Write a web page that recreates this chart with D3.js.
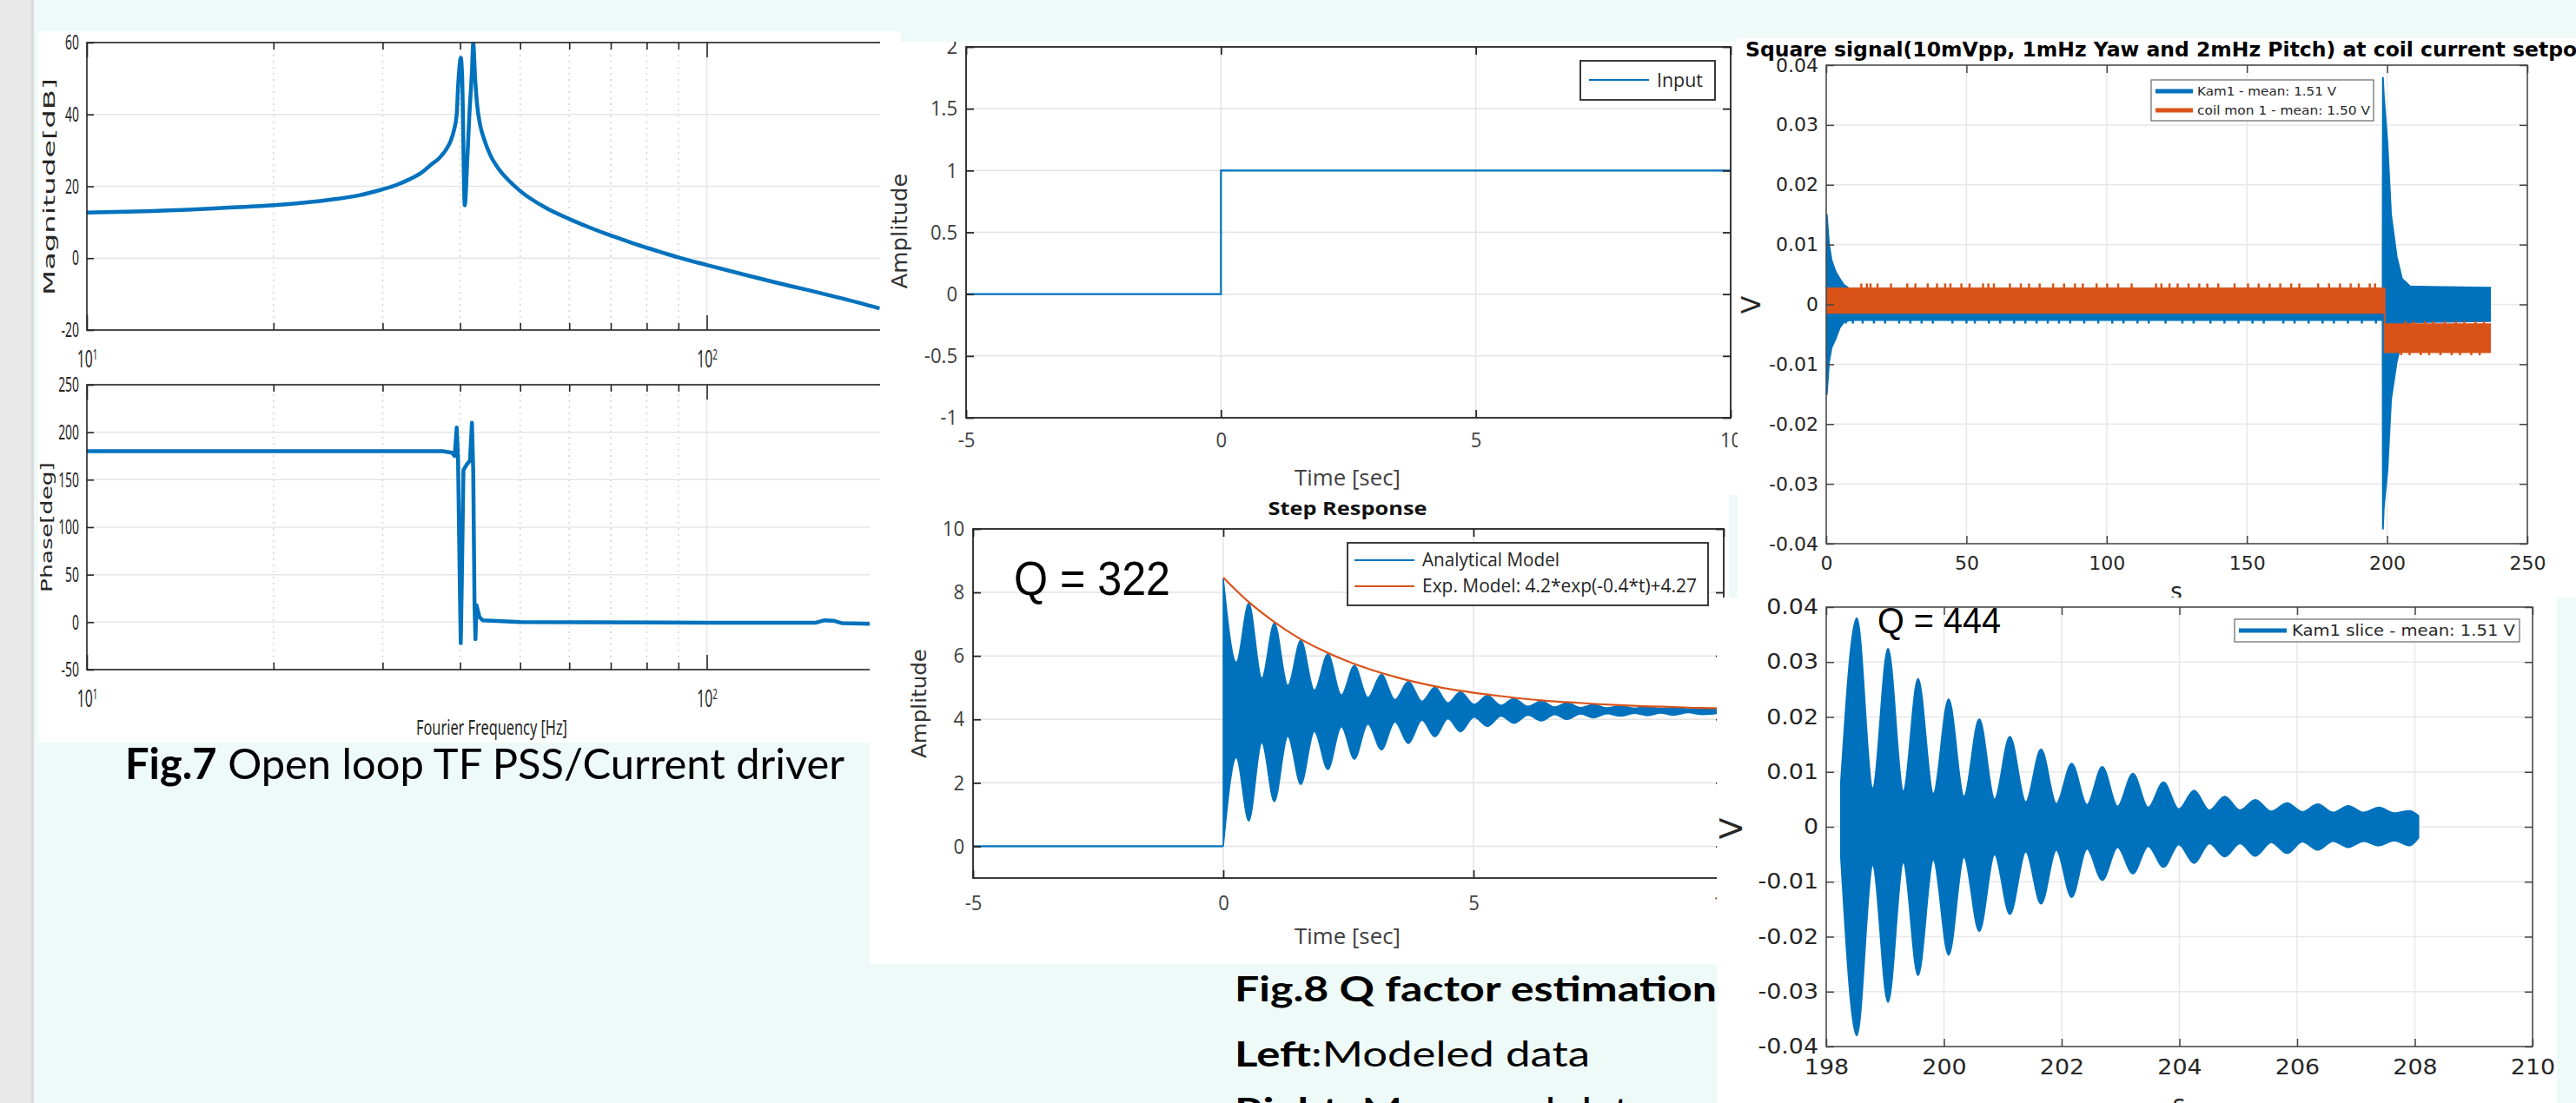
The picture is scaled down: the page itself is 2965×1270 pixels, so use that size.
<!DOCTYPE html>
<html>
<head>
<meta charset="utf-8">
<title>Fig.7 / Fig.8</title>
<script src="https://cdn.jsdelivr.net/npm/d3@7"></script>
<style>
  html, body { margin: 0; padding: 0; background: #eefaf7; }
  svg { display: block; }
</style>
</head>
<body>
<svg id="slide" width="2965" height="1270"></svg>
<script>
/* ===== DATA ===== */

// Fig.7 open loop TF, magnitude
const magFreq = [10, 12, 15, 17.5, 19.8, 22.3, 24.8, 27.5, 29.9, 31.5, 33.1, 34.6, 35.9, 37.0, 37.9, 38.6, 39.1, 39.5, 39.7, 39.9, 40.1, 40.3, 40.7, 41.1, 41.4, 41.8, 42.0, 42.3, 42.6, 43.1, 43.7, 44.8, 46.0, 48, 50, 55, 60, 65, 70, 75, 80, 85, 90, 100, 115, 130, 145, 160, 175, 190];
const magDb   = [12.7, 13.0, 13.6, 14.2, 14.7, 15.4, 16.3, 17.5, 19.1, 20.3, 21.9, 23.7, 26.0, 27.8, 30.0, 32.5, 35.6, 40.0, 47.7, 53.0, 55.8, 51.0, 14.7, 28.0, 39.7, 52.0, 59.8, 50.0, 42.9, 37.0, 33.3, 28.5, 25.2, 21.5, 18.7, 14.0, 10.9, 8.4, 6.3, 4.5, 2.9, 1.5, 0.2, -1.9, -4.6, -6.9, -8.8, -10.6, -12.3, -14.0];
// Fig.7 phase
const phaseFreq = [10, 20, 30, 37.5, 38.8, 39.2, 39.5, 39.7, 40.0, 40.1, 40.25, 40.5, 41.0, 41.5, 41.8, 42.0, 42.2, 42.35, 42.5, 43.0, 43.5, 50, 100, 150, 155, 160, 165, 190];
const phaseDeg  = [180, 180, 180, 180, 178.5, 175, 205, 170, 20, -22, 40, 160, 166, 170, 210, 160, 20, -18, 18, 5, 2, 0, -0.5, -0.5, 2, 1.5, -1, -2];
const magTicks = [-20, 0, 20, 40, 60];
const phaseTicks = [-50, 0, 50, 100, 150, 200, 250];
const decadeTicks = [10, 100];
const minorFreq = [20, 30, 40, 50, 60, 70, 80, 90, 200, 300, 400, 500, 600, 700, 800, 900];

// Fig.8 left: step input
const inputTime = [-5, 0, 0, 10];
const inputAmp  = [0, 0, 1, 1];
const stepTicksX = [-5, 0, 5, 10];
const inputTicksY = [-1, -0.5, 0, 0.5, 1, 1.5, 2];

// Fig.8 left: step response (beat lobes of the analytical model)
const respTicksY = [0, 2, 4, 6, 8, 10];
const lobeTime   = [0, 0.51, 1.02, 1.55, 2.09, 2.62, 3.16, 3.70, 4.23, 4.74, 5.28, 5.81, 6.36, 6.87, 7.40, 7.94, 8.48, 9.00, 9.58];
const lobeTop    = [8.44, 7.66, 7.04, 6.50, 6.06, 5.70, 5.42, 5.20, 5.01, 4.87, 4.75, 4.66, 4.58, 4.52, 4.47, 4.43, 4.40, 4.37, 4.35];
const lobeBottom = [0, 0.80, 1.41, 1.95, 2.42, 2.75, 3.04, 3.24, 3.45, 3.61, 3.78, 3.88, 3.95, 4.00, 4.05, 4.10, 4.12, 4.13, 4.15];
const neckTime   = [0.26, 0.77, 1.29, 1.82, 2.36, 2.89, 3.43, 3.97, 4.49, 5.01, 5.55, 6.09, 6.62, 7.14, 7.67, 8.21, 8.74, 9.29, 10];
const neckTop    = [5.8, 5.3, 5.07, 4.92, 4.77, 4.69, 4.62, 4.57, 4.52, 4.47, 4.44, 4.41, 4.39, 4.37, 4.36, 4.35, 4.34, 4.33, 4.33];
const neckBottom = [2.8, 3.27, 3.47, 3.62, 3.77, 3.85, 3.92, 3.97, 4.02, 4.07, 4.10, 4.13, 4.15, 4.17, 4.18, 4.19, 4.20, 4.21, 4.21];
const expTime = [0, 0.5, 1, 1.5, 2, 2.5, 3, 3.5, 4, 4.5, 5, 5.5, 6, 6.5, 7, 7.5, 8, 8.5, 9, 9.5, 10];
const expAmp  = [8.47, 7.71, 7.09, 6.57, 6.16, 5.82, 5.54, 5.31, 5.12, 4.96, 4.84, 4.74, 4.65, 4.58, 4.53, 4.48, 4.44, 4.41, 4.39, 4.36, 4.35];

// Fig.8 right: square signal
const sqTicksX = [0, 50, 100, 150, 200, 250];
const voltTicks = [-0.04, -0.03, -0.02, -0.01, 0, 0.01, 0.02, 0.03, 0.04];
const kamTime = [0, 0.2, 1, 1.9, 3.3, 4.8, 6.2, 8, 10, 198.4, 198.5, 198.8, 200.1, 201.4, 203.4, 205.3, 208.2, 236.7];
const kamHigh = [0.015, 0.015, 0.010, 0.0074, 0.0055, 0.0043, 0.0033, 0.0027, 0.0024, 0.0024, 0.038, 0.035, 0.027, 0.015, 0.008, 0.0043, 0.003, 0.0028];
const kamLow  = [-0.015, -0.015, -0.0096, -0.0072, -0.0058, -0.0039, -0.003, -0.0027, -0.0026, -0.0026, -0.0376, -0.034, -0.0278, -0.0159, -0.0096, -0.006, -0.003, -0.0028];
const kamSpikeTime = [7, 9.5, 13, 17, 21, 26, 30, 34, 38, 45, 50, 53, 58, 62, 67, 71, 75, 79, 83, 87, 92, 97, 102, 106, 111, 115, 121, 127, 131, 137, 142, 147, 152, 156, 163, 167, 172, 177, 181, 186, 191, 196];
const coilTime = [0, 199.1, 199.1, 236.7];
const coilHigh = [0.0027, 0.0027, -0.0033, -0.0033];
const coilLow  = [-0.0014, -0.0014, -0.008, -0.008];
const coilSpikeTime = [12.5, 14.5, 15.8, 18.3, 23.1, 28.9, 31.8, 36.2, 39.5, 42.4, 44.3, 48.2, 51.1, 55.9, 57.8, 59.8, 65.5, 69.4, 72.3, 76.1, 80.9, 84.8, 88.7, 91.5, 96.4, 100.2, 104.1, 108.9, 117.6, 119.5, 122.4, 125.3, 129.2, 133, 135.9, 139.8, 145.6, 150.4, 154.2, 158.1, 161.9, 165.8, 168.7, 175.4, 179.3, 183.2, 187, 189.9, 193.8, 195.7];
const coilLateSpikeTime = [205, 208, 212, 215, 219, 223, 226, 230, 233];

// Fig.8 right: Kam1 slice
const sliceTicksX = [198, 200, 202, 204, 206, 208, 210];
const sliceLobeTime = [198.52, 199.05, 199.56, 200.08, 200.6, 201.12, 201.65, 202.17, 202.69, 203.21, 203.73, 204.25, 204.77, 205.29, 205.83, 206.35, 206.87, 207.39, 207.91];
const sliceLobeTop  = [0.038, 0.0324, 0.0269, 0.0232, 0.0196, 0.0164, 0.0141, 0.0115, 0.0109, 0.0097, 0.0081, 0.0066, 0.0055, 0.0049, 0.0043, 0.0041, 0.0038, 0.0035, 0.0029];
const sliceLobeBot  = [-0.038, -0.0319, -0.027, -0.0233, -0.019, -0.0159, -0.014, -0.0128, -0.0097, -0.0085, -0.0073, -0.0066, -0.0054, -0.0053, -0.0048, -0.0042, -0.0037, -0.0034, -0.0034];
const sliceNeckTime = [198.25, 198.79, 199.31, 199.82, 200.34, 200.86, 201.39, 201.91, 202.43, 202.95, 203.47, 203.99, 204.51, 205.03, 205.56, 206.09, 206.61, 207.13, 207.65, 208.06];
const sliceNeckTop  = [0.008, 0.007, 0.0065, 0.006, 0.0055, 0.005, 0.0045, 0.0042, 0.004, 0.0037, 0.0035, 0.0032, 0.003, 0.003, 0.0028, 0.0027, 0.0026, 0.0026, 0.0025, 0.002];
const sliceNeckBot  = [-0.0054, -0.007, -0.0065, -0.006, -0.0055, -0.005, -0.0045, -0.0042, -0.004, -0.0037, -0.0035, -0.0032, -0.003, -0.003, -0.0028, -0.0027, -0.0026, -0.0026, -0.0025, -0.002];

/* ===== SETUP ===== */
const W = 2965, H = 1270;
const BLUE = '#0072bd', ORANGE = '#d95319';
const svg = d3.select('#slide');
const defs = svg.append('defs');

svg.append('rect').attr('width', W).attr('height', H).attr('fill', '#eefaf7');
svg.append('rect').attr('width', 36).attr('height', H).attr('fill', '#e9e9e9');
svg.append('rect').attr('x', 36).attr('width', 3).attr('height', H).attr('fill', '#dadada');

let clipCount = 0;
function clip(x, y, w, h) {
    const id = 'clip' + (clipCount++);
    defs.append('clipPath').attr('id', id)
        .append('rect').attr('x', x).attr('y', y).attr('width', w).attr('height', h);
    return `url(#${id})`;
}

// a pasted picture: white card, clipped
function panel(x, y, w, h) {
    const g = svg.append('g').attr('clip-path', clip(x, y, w, h));
    g.append('rect').attr('x', x).attr('y', y).attr('width', w).attr('height', h).attr('fill', '#fff');
    return g;
}

// MATLAB-like axes: grid, clipped data layer, inward ticks, box
function axes(parent, x, y, o) {
    const [x0, x1] = x.range();
    const [y0, y1] = y.range();
    const g = parent.append('g');

    const grid = g.append('g').attr('stroke', o.grid).attr('stroke-width', o.gridW || 1.5);
    grid.selectAll(null).data(o.yGrid || o.yTicks).join('line')
        .attr('x1', x0).attr('x2', x1).attr('y1', d => y(d)).attr('y2', d => y(d));
    grid.selectAll(null).data(o.xGrid || o.xTicks).join('line')
        .attr('x1', d => x(d)).attr('x2', d => x(d)).attr('y1', y0).attr('y2', y1);
    if (o.xMinor) {
        grid.append('g').attr('stroke-dasharray', '2,5').attr('stroke', '#d4d4d4')
            .selectAll(null).data(o.xMinor).join('line')
            .attr('x1', d => x(d)).attr('x2', d => x(d)).attr('y1', y0).attr('y2', y1);
    }

    const data = g.append('g').attr('clip-path', clip(x0, y1, x1 - x0, y0 - y1));
    const ax = g.append('g').attr('color', o.axis);
    const xTick = -(o.xTick || o.tick), yTick = -o.tick;

    const bottom = ax.append('g').attr('transform', `translate(0,${y0})`)
        .call(d3.axisBottom(x).tickValues(o.xTicks).tickFormat(o.xFmt || String)
            .tickSizeInner(xTick).tickSizeOuter(0).tickPadding(o.xPad));
    const left = ax.append('g').attr('transform', `translate(${x0},0)`)
        .call(d3.axisLeft(y).tickValues(o.yTicks).tickFormat(o.yFmt || String)
            .tickSizeInner(yTick).tickSizeOuter(0).tickPadding(o.yPad));
    ax.append('g').attr('transform', `translate(0,${y1})`)
        .call(d3.axisTop(x).tickValues(o.xTicks).tickFormat(() => '').tickSizeInner(xTick).tickSizeOuter(0));
    ax.append('g').attr('transform', `translate(${x1},0)`)
        .call(d3.axisRight(y).tickValues(o.yTicks).tickFormat(() => '').tickSizeInner(yTick).tickSizeOuter(0));
    if (o.xMinor) {
        ax.append('g').attr('transform', `translate(0,${y0})`)
            .call(d3.axisBottom(x).tickValues(o.xMinor).tickFormat(() => '').tickSizeInner(-o.tick).tickSizeOuter(0));
        ax.append('g').attr('transform', `translate(0,${y1})`)
            .call(d3.axisTop(x).tickValues(o.xMinor).tickFormat(() => '').tickSizeInner(-o.tick).tickSizeOuter(0));
    }

    ax.selectAll('.domain').remove();
    ax.selectAll('.tick line').attr('stroke-width', o.axisW);
    ax.selectAll('.tick text').attr('fill', o.text);
    [bottom, left].forEach(a => a.attr('font-family', o.font).attr('font-size', o.size));
    if (o.sx && o.sx !== 1) {
        left.selectAll('.tick text').attr('x', -o.yPad / o.sx).attr('transform', `scale(${o.sx},1)`);
        bottom.selectAll('.tick text').attr('transform', `scale(${o.sx},1)`);
    }

    ax.append('rect')
        .attr('x', x0).attr('y', y1).attr('width', x1 - x0).attr('height', y0 - y1)
        .attr('fill', 'none').attr('stroke', 'currentColor').attr('stroke-width', o.axisW);

    return { data, bottom, left };
}

function powerLabels(axisG) {
    axisG.selectAll('.tick text').each(function (d) {
        const t = d3.select(this);
        t.append('tspan').text('10');
        t.append('tspan').attr('dy', '-0.55em').attr('font-size', '0.62em')
            .text(Math.round(Math.log10(d)));
    });
}

function label(g, txt, x, y, o) {
    const t = g.append('text')
        .attr('x', 0).attr('y', 0)
        .attr('transform', `translate(${x},${y})` + (o.rotate ? ' rotate(-90)' : ''))
        .attr('text-anchor', o.anchor || 'middle')
        .attr('font-family', o.font).attr('font-size', o.size)
        .attr('font-weight', o.weight || 'normal')
        .attr('fill', o.fill || '#262626')
        .text(txt);
    if (o.len) t.attr('textLength', o.len).attr('lengthAdjust', 'spacingAndGlyphs');
    return t;
}

function legend(g, box, items, o) {
    g.append('rect').attr('x', box[0]).attr('y', box[1]).attr('width', box[2]).attr('height', box[3])
        .attr('fill', '#fff').attr('stroke', o.stroke).attr('stroke-width', o.sw);
    items.forEach(it => {
        g.append('line').attr('x1', it.x1).attr('x2', it.x2).attr('y1', it.y).attr('y2', it.y)
            .attr('stroke', it.color).attr('stroke-width', o.lw);
        label(g, it.label, it.tx, it.y + o.size * 0.35, { anchor: 'start', font: o.font, size: o.size, len: it.len });
    });
}

// short vertical noise spikes sticking out of a band edge
function spikes(g, x, y, times, from, to, color) {
    g.append('g').attr('stroke', color).attr('stroke-width', 2.5)
        .selectAll('line').data(times).join('line')
        .attr('x1', d => x(d)).attr('x2', d => x(d))
        .attr('y1', y(from)).attr('y2', y(to));
}

/* ===== FIG.7 BODE ===== */
const bode = panel(44, 36, 993, 819);
const fx = d3.scaleLog().domain([10, 1000]).range([100, 1527]);
const bodeStyle = {
    grid: '#e6e6e6', axis: '#262626', text: '#262626', font: 'Noto Sans', size: 24, sx: 0.58,
    tick: 8, xTick: 17, xPad: 24, yPad: 9, axisW: 1.6,
    xGrid: decadeTicks, xTicks: decadeTicks, xMinor: minorFreq, xFmt: () => ''
};

const magY = d3.scaleLinear().domain([-20, 60]).range([380, 49]);
const mag = axes(bode, fx, magY, { ...bodeStyle, yTicks: magTicks });
powerLabels(mag.bottom);
mag.bottom.attr('font-size', 27);
mag.data.append('path')
    .datum(magFreq.map((f, i) => [f, magDb[i]]))
    .attr('d', d3.line().x(d => fx(d[0])).y(d => magY(d[1])).curve(d3.curveMonotoneX))
    .attr('fill', 'none').attr('stroke', BLUE).attr('stroke-width', 4.5).attr('stroke-linejoin', 'round');

const phaseY = d3.scaleLinear().domain([-50, 250]).range([771, 443]);
const phase = axes(bode, fx, phaseY, { ...bodeStyle, yTicks: phaseTicks });
powerLabels(phase.bottom);
phase.bottom.attr('font-size', 27);
phase.data.append('path')
    .datum(phaseFreq.map((f, i) => [f, phaseDeg[i]]))
    .attr('d', d3.line().x(d => fx(d[0])).y(d => phaseY(d[1])))
    .attr('fill', 'none').attr('stroke', BLUE).attr('stroke-width', 4.5).attr('stroke-linejoin', 'round');

label(bode, 'Magnitude[dB]', 63, 215, { rotate: true, font: 'DejaVu Sans', size: 18, len: 250 });
label(bode, 'Phase[deg]', 60, 607, { rotate: true, font: 'DejaVu Sans', size: 17, len: 150 });
label(bode, 'Fourier Frequency [Hz]', 566, 846, { font: 'Noto Sans', size: 23, len: 174 });

const cap7 = svg.append('text').attr('x', 144).attr('y', 897)
    .attr('font-family', 'Lato').attr('font-size', 49).attr('fill', '#000')
    .attr('textLength', 828).attr('lengthAdjust', 'spacingAndGlyphs');
cap7.append('tspan').attr('font-weight', 'bold').text('Fig.7');
cap7.append('tspan').text(' Open loop TF PSS/Current driver');

/* ===== FIG.8 LEFT: STEP INPUT ===== */
const stepStyle = {
    grid: '#e3e3e3', axis: '#262626', text: '#404040', font: 'Open Sans', size: 24, sx: 0.92,
    tick: 9, xPad: 17, yPad: 10, axisW: 1.8
};
const inPanel = panel(1013, 48, 987, 522);
const inX = d3.scaleLinear().domain([-5, 10]).range([1112, 1992]);
const inY = d3.scaleLinear().domain([-1, 2]).range([481, 54]);
const inAx = axes(inPanel, inX, inY, { ...stepStyle, xTicks: stepTicksX, yTicks: inputTicksY });
inAx.data.append('path')
    .datum(inputTime.map((t, i) => [t, inputAmp[i]]))
    .attr('d', d3.line().x(d => inX(d[0])).y(d => inY(d[1])))
    .attr('fill', 'none').attr('stroke', BLUE).attr('stroke-width', 2.2);
label(inPanel, 'Amplitude', 1044, 266, { rotate: true, font: 'DejaVu Sans', size: 24, len: 133, fill: '#333' });
label(inPanel, 'Time [sec]', 1551, 559, { font: 'Open Sans', size: 25, fill: '#404040', len: 122 });
legend(inPanel, [1819, 70, 155, 45], [
    { x1: 1829, x2: 1898, y: 92, tx: 1907, color: BLUE, label: 'Input', len: 53 }
], { stroke: '#262626', sw: 1.8, lw: 2.2, font: 'Open Sans', size: 22 });

/* ===== FIG.8 LEFT: STEP RESPONSE ===== */
const respPanel = panel(1001, 570, 989, 540);
const rX = d3.scaleLinear().domain([-5, 10]).range([1120, 1984]);
const rY = d3.scaleLinear().domain([-1, 10]).range([1011, 609]);
const rAx = axes(respPanel, rX, rY, { ...stepStyle, xTicks: stepTicksX, yTicks: respTicksY, xPad: 20 });

const respBand = lobeTime.map((t, i) => ({ t, hi: lobeTop[i], lo: lobeBottom[i] }))
    .concat(neckTime.map((t, i) => ({ t, hi: neckTop[i], lo: neckBottom[i] })))
    .sort((a, b) => a.t - b.t);
rAx.data.append('path')
    .datum([[-5, 0], [0, 0]])
    .attr('d', d3.line().x(d => rX(d[0])).y(d => rY(d[1])))
    .attr('fill', 'none').attr('stroke', BLUE).attr('stroke-width', 2.2);
rAx.data.append('path')
    .datum(respBand)
    .attr('d', d3.area().x(d => rX(d.t)).y0(d => rY(d.lo)).y1(d => rY(d.hi)).curve(d3.curveMonotoneX))
    .attr('fill', BLUE).attr('stroke', BLUE).attr('stroke-width', 1.5);
rAx.data.append('path')
    .datum(expTime.map((t, i) => [t, expAmp[i]]))
    .attr('d', d3.line().x(d => rX(d[0])).y(d => rY(d[1])).curve(d3.curveMonotoneX))
    .attr('fill', 'none').attr('stroke', ORANGE).attr('stroke-width', 2.2);

label(respPanel, 'Step Response', 1551, 593, { font: 'Open Sans', size: 22, weight: 'bold', fill: '#111', len: 183 });
label(respPanel, 'Amplitude', 1066, 810, { rotate: true, font: 'DejaVu Sans', size: 23, len: 126, fill: '#333' });
label(respPanel, 'Time [sec]', 1551, 1087, { font: 'Open Sans', size: 25, fill: '#404040', len: 122 });
legend(respPanel, [1551, 625, 415, 72], [
    { x1: 1559, x2: 1628, y: 645, tx: 1637, color: BLUE, label: 'Analytical Model', len: 158 },
    { x1: 1559, x2: 1628, y: 675, tx: 1637, color: ORANGE, label: 'Exp. Model: 4.2*exp(-0.4*t)+4.27', len: 316 }
], { stroke: '#262626', sw: 1.8, lw: 2.2, font: 'Open Sans', size: 21 });
label(respPanel, 'Q = 322', 1167, 685, { anchor: 'start', font: 'Liberation Sans', size: 55, fill: '#000', len: 180 });

/* ===== FIG.8 RIGHT: SQUARE SIGNAL ===== */
const rightStyle = {
    grid: '#e8e8e8', axis: '#444', text: '#262626', font: 'DejaVu Sans', size: 22,
    tick: 9, xPad: 14, yPad: 9, axisW: 1.5, yTicks: voltTicks
};
const sqPanel = panel(2000, 44, 965, 644);
const qX = d3.scaleLinear().domain([0, 250]).range([2102, 2909]);
const qY = d3.scaleLinear().domain([-0.04, 0.04]).range([626, 75]);
const qAx = axes(sqPanel, qX, qY, { ...rightStyle, xTicks: sqTicksX });
qAx.data.append('path')
    .datum(kamTime.map((t, i) => ({ t, hi: kamHigh[i], lo: kamLow[i] })))
    .attr('d', d3.area().x(d => qX(d.t)).y0(d => qY(d.lo)).y1(d => qY(d.hi)))
    .attr('fill', BLUE).attr('stroke', BLUE).attr('stroke-width', 2);
spikes(qAx.data, qX, qY, kamSpikeTime, -0.0025, -0.0032, BLUE);
qAx.data.append('path')
    .datum(coilTime.map((t, i) => ({ t, hi: coilHigh[i], lo: coilLow[i] })))
    .attr('d', d3.area().x(d => qX(d.t)).y0(d => qY(d.lo)).y1(d => qY(d.hi)))
    .attr('fill', ORANGE).attr('stroke', ORANGE).attr('stroke-width', 2);
spikes(qAx.data, qX, qY, coilSpikeTime, 0.0026, 0.0035, ORANGE);
spikes(qAx.data, qX, qY, coilLateSpikeTime, -0.0079, -0.0085, ORANGE);
spikes(qAx.data, qX, qY, coilLateSpikeTime.map(t => t + 1.5), -0.0034, -0.0028, ORANGE);

label(sqPanel, 'Square signal(10mVpp, 1mHz Yaw and 2mHz Pitch) at coil current setpoint', 2009, 65,
    { anchor: 'start', font: 'DejaVu Sans', size: 23.5, weight: 'bold', fill: '#000' });
label(sqPanel, 'V', 2026, 351, { rotate: true, font: 'DejaVu Sans', size: 30, fill: '#262626' });
label(sqPanel, 's', 2505, 690, { font: 'DejaVu Sans', size: 26, fill: '#262626' });
legend(sqPanel, [2476, 92, 256, 47], [
    { x1: 2481, x2: 2524, y: 105, tx: 2529, color: BLUE, label: 'Kam1 - mean: 1.51 V', len: 160 },
    { x1: 2481, x2: 2524, y: 127, tx: 2529, color: ORANGE, label: 'coil mon 1 - mean: 1.50 V', len: 199 }
], { stroke: '#666', sw: 1.2, lw: 5, font: 'DejaVu Sans', size: 13.5 });

/* ===== FIG.8 RIGHT: KAM1 SLICE ===== */
const slPanel = panel(1976, 688, 967, 582);
const lX = d3.scaleLinear().domain([198, 210]).range([2102, 2915]);
const lY = d3.scaleLinear().domain([-0.04, 0.04]).range([1205, 699]);
const lAx = axes(slPanel, lX, lY, { ...rightStyle, xTicks: sliceTicksX, size: 24, sx: 1.12, xPad: 15 });
const sliceBand = sliceLobeTime.map((t, i) => ({ t, hi: sliceLobeTop[i], lo: sliceLobeBot[i] }))
    .concat(sliceNeckTime.map((t, i) => ({ t, hi: sliceNeckTop[i], lo: sliceNeckBot[i] })))
    .sort((a, b) => a.t - b.t);
lAx.data.append('path')
    .datum(sliceBand)
    .attr('d', d3.area().x(d => lX(d.t)).y0(d => lY(d.lo)).y1(d => lY(d.hi)).curve(d3.curveMonotoneX))
    .attr('fill', BLUE).attr('stroke', BLUE).attr('stroke-width', 2);

label(slPanel, 'V', 2005, 954, { rotate: true, font: 'DejaVu Sans', size: 36, fill: '#262626' });
label(slPanel, 's', 2508, 1281, { font: 'DejaVu Sans', size: 28, fill: '#262626' });
legend(slPanel, [2572, 713, 328, 26], [
    { x1: 2577, x2: 2632, y: 726, tx: 2638, color: BLUE, label: 'Kam1 slice - mean: 1.51 V', len: 257 }
], { stroke: '#666', sw: 1.2, lw: 5, font: 'DejaVu Sans', size: 17 });
label(slPanel, 'Q = 444', 2161, 729, { anchor: 'start', font: 'Liberation Sans', size: 43, fill: '#000', len: 142 });

/* ===== FIG.8 CAPTION ===== */
const cap8 = svg.append('g').attr('font-family', 'Lato').attr('font-size', 40).attr('fill', '#000');
cap8.append('text').attr('x', 1421).attr('y', 1153).attr('font-weight', 'bold')
    .attr('textLength', 555).attr('lengthAdjust', 'spacingAndGlyphs')
    .text('Fig.8 Q factor estimation');
const left8 = cap8.append('text').attr('x', 1421).attr('y', 1228)
    .attr('textLength', 409).attr('lengthAdjust', 'spacingAndGlyphs');
left8.append('tspan').attr('font-weight', 'bold').text('Left');
left8.append('tspan').text(':Modeled data');
const right8 = cap8.append('text').attr('x', 1421).attr('y', 1293)
    .attr('textLength', 480).attr('lengthAdjust', 'spacingAndGlyphs');
right8.append('tspan').attr('font-weight', 'bold').text('Right');
right8.append('tspan').text(': Measured data');
</script>
</body>
</html>
